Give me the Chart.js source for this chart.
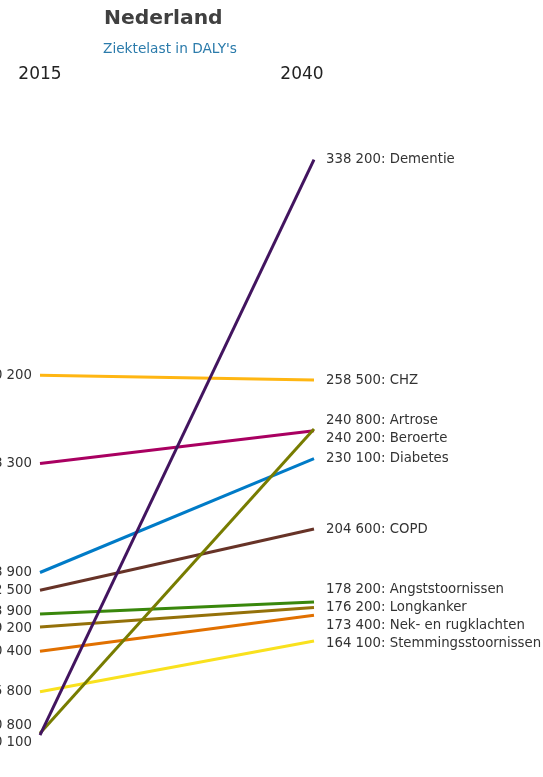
<!DOCTYPE html>
<html>
<head>
<meta charset="utf-8">
<script src="https://cdn.jsdelivr.net/npm/chart.js@4"></script>
<style>
  body { margin: 0; background: #fff; }
  canvas { display: block; }
</style>
</head>
<body>
<canvas id="slopeChart" width="543" height="777"></canvas>
<script>
// jaren en ziektes
const years = ['2015', '2040']
const diseases = ['Dementie', 'CHZ', 'Artrose', 'Beroerte', 'Diabetes', 'COPD',
    'Angststoornissen', 'Longkanker', 'Nek- en rugklachten', 'Stemmingsstoornissen']
// ziektelast in DALY's
const daly2015 = [130100, 260200, 130800, 228300, 188900, 182500, 173900, 169200, 160400, 145800]
const daly2040 = [338200, 258500, 240800, 240200, 230100, 204600, 178200, 176200, 173400, 164100]
const lineColors = ['#42145f', '#ffb612', '#777c00', '#a90061', '#007bc7', '#673327',
    '#39870c', '#94710a', '#e17000', '#f9e11e']

const fmt = v => String(v).replace(/\B(?=(\d{3})+(?!\d))/g, ' ')

// labels uit elkaar duwen als ze overlappen
const spread = (ys, gap) => {
    const idx = ys.map((y, i) => i).sort((a, b) => ys[a] - ys[b])
    const groups = idx.map(i => ({ members: [i], sum: ys[i] }))
    const place = g => { g.top = g.sum / g.members.length - (g.members.length - 1) * gap / 2 }
    groups.forEach(place)
    let merged = true
    while (merged) {
        merged = false
        for (let k = 0; k < groups.length - 1; k++) {
            const a = groups[k], b = groups[k + 1]
            if (a.top + a.members.length * gap > b.top) {
                a.members = a.members.concat(b.members)
                a.sum += b.sum
                place(a)
                groups.splice(k + 1, 1)
                merged = true
                break
            }
        }
    }
    const out = []
    groups.forEach(g => g.members.forEach((m, j) => { out[m] = g.top + j * gap }))
    return out
}

const labelPlugin = {
    id: 'slopeLabels',
    afterDatasetsDraw(chart) {
        const { ctx, scales: { x, y } } = chart
        const x0 = x.getPixelForValue(0)
        const x1 = x.getPixelForValue(1)
        ctx.save()
        ctx.textBaseline = 'middle'

        // titel
        ctx.textAlign = 'left'
        ctx.fillStyle = '#404040'
        ctx.font = 'bold 20.3px "DejaVu Sans"'
        ctx.fillText('Nederland', 104, 19)
        ctx.fillStyle = '#2b7bab'
        ctx.font = '13.7px "DejaVu Sans"'
        ctx.fillText("Ziektelast in DALY's", 103, 49)

        // jaren
        ctx.fillStyle = '#222'
        ctx.font = '17px "DejaVu Sans"'
        ctx.textAlign = 'center'
        ctx.fillText(years[0], x0, 75)
        ctx.fillText(years[1], x1 - 12, 75)

        ctx.font = '13.3px "DejaVu Sans"'
        ctx.fillStyle = '#333'

        const leftY = spread(daly2015.map(v => y.getPixelForValue(v)), 17)
        ctx.textAlign = 'right'
        daly2015.forEach((v, i) => ctx.fillText(fmt(v), x0 - 8, leftY[i]))

        const rightY = spread(daly2040.map(v => y.getPixelForValue(v)), 18)
        ctx.textAlign = 'left'
        daly2040.forEach((v, i) => ctx.fillText(fmt(v) + ': ' + diseases[i], x1 + 12, rightY[i]))
        ctx.restore()
    }
}

const data = {
    labels: years,
    datasets: diseases.map((d, i) => ({
        label: d,
        data: [daly2015[i], daly2040[i]],
        borderColor: lineColors[i],
        backgroundColor: lineColors[i],
        borderWidth: 3,
        pointRadius: 0,
        tension: 0
    }))
}

const options = {
    responsive: false,
    animation: false,
    devicePixelRatio: 1,
    layout: { padding: { top: 99.4, bottom: 14, left: 40, right: 229 } },
    plugins: {
        legend: { display: false },
        tooltip: { enabled: false }
    },
    scales: {
        x: { type: 'category', offset: false, display: false },
        y: { type: 'linear', min: 120000, max: 360000, display: false }
    }
}

new Chart('slopeChart', { type: 'line', data, options, plugins: [labelPlugin] })
</script>
</body>
</html>
